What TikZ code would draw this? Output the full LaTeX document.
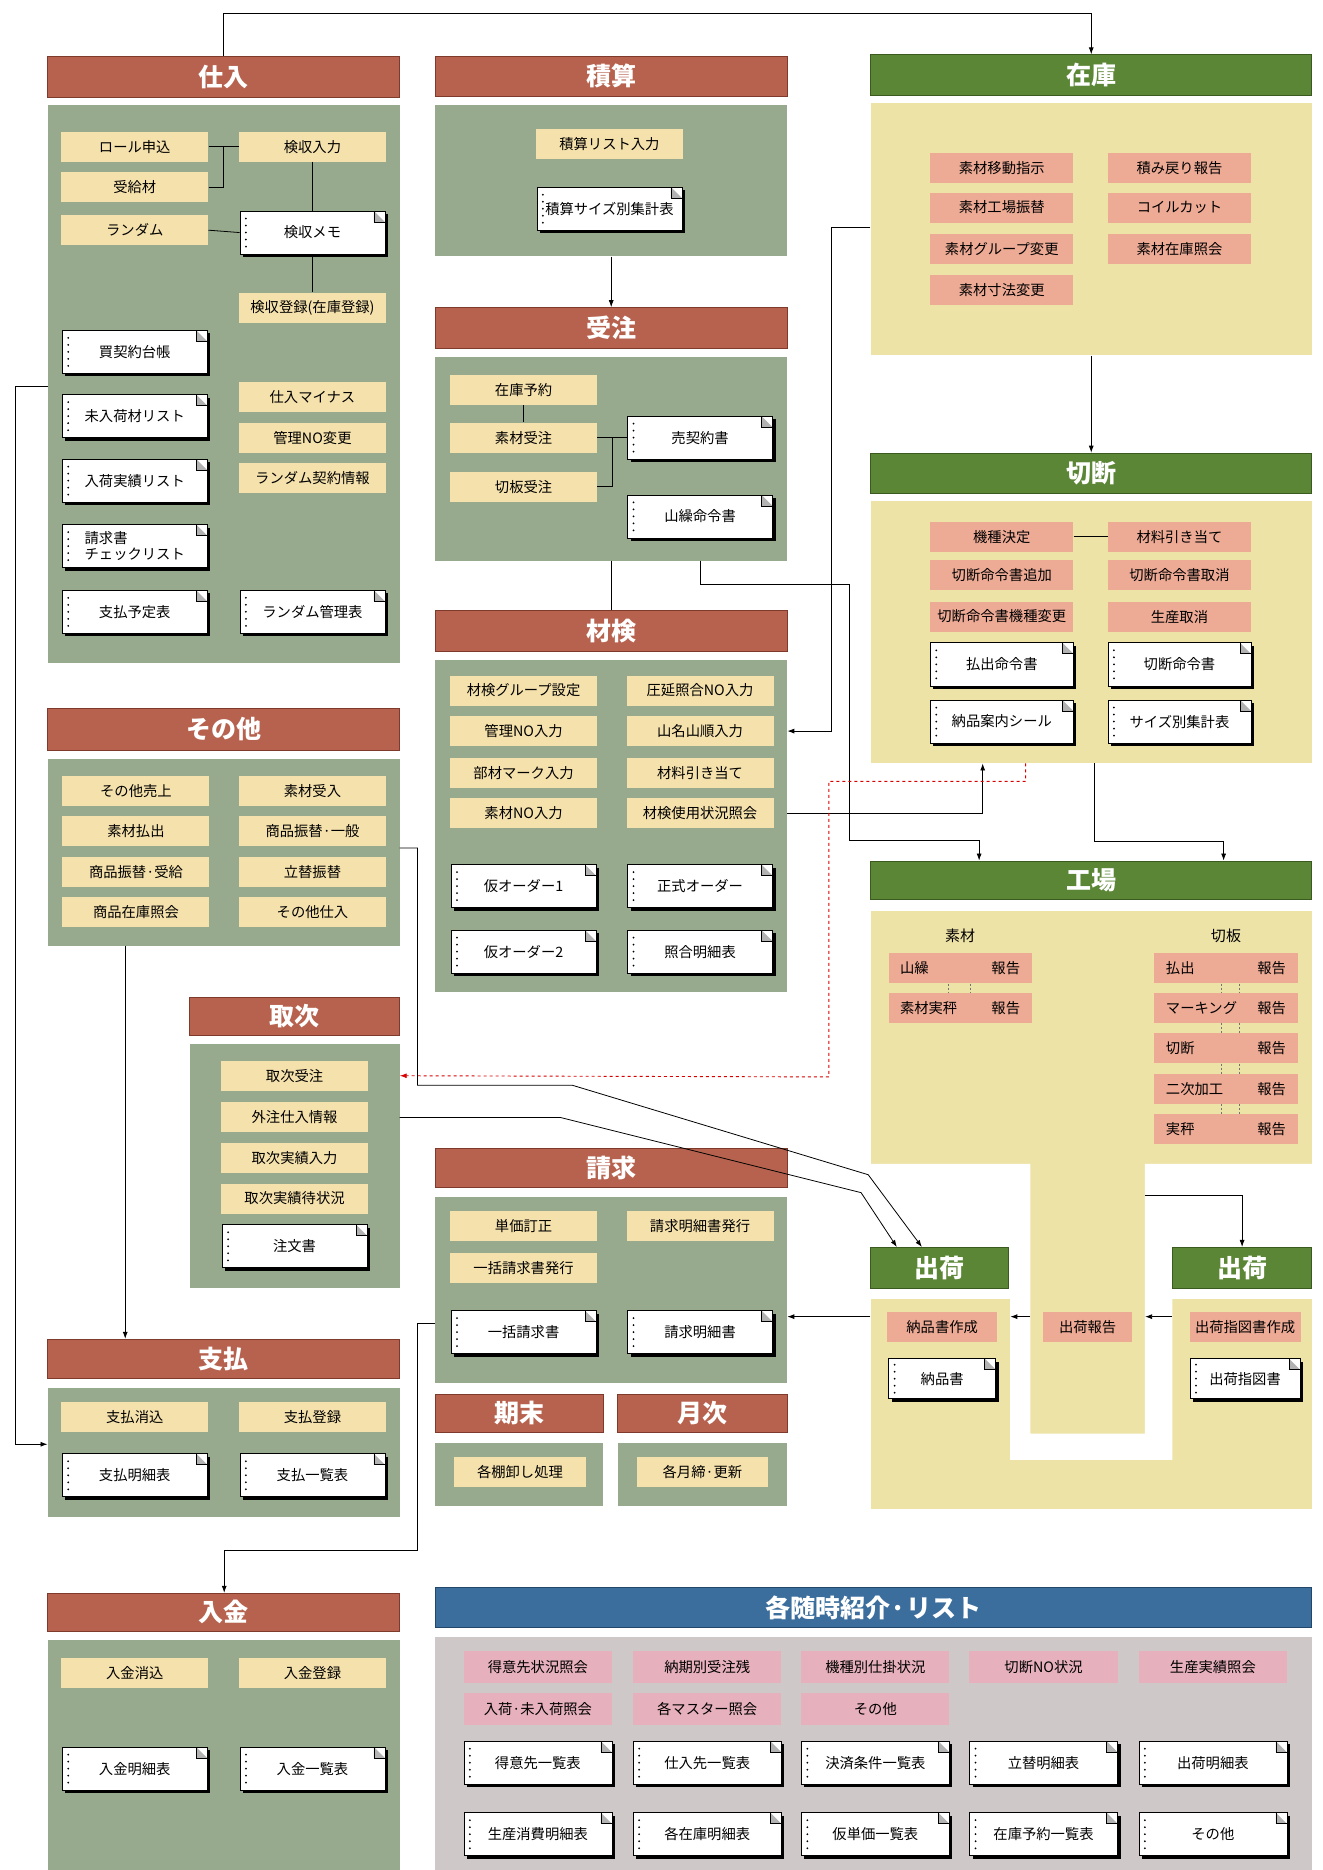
\documentclass[tikz,border=0pt]{standalone}
\usepackage{fontspec}
\setmainfont{Noto Sans CJK JP}
\usepackage{tikz}
\usetikzlibrary{arrows.meta,fit,shadows,calc}

\definecolor{hdrRed}{HTML}{B6624E}
\definecolor{hdrRedD}{HTML}{7E3B2C}
\definecolor{hdrGreen}{HTML}{5B8636}
\definecolor{hdrGreenD}{HTML}{3A5A20}
\definecolor{hdrBlue}{HTML}{3B6E9C}
\definecolor{hdrBlueD}{HTML}{22476A}
\definecolor{bodyGreen}{HTML}{97AA8D}
\definecolor{bodyYellow}{HTML}{EEE3A6}
\definecolor{bodyGrey}{HTML}{CFC8C8}
\definecolor{itemYellow}{HTML}{F5E1AC}
\definecolor{itemSalmon}{HTML}{EDAA95}
\definecolor{itemPink}{HTML}{E6B0BC}

\begin{document}
\begin{tikzpicture}[x=1.192pt, y=-1.192pt, every node/.style={font=\fontsize{14.3}{16}\selectfont, inner sep=0pt}, >={Latex[length=7pt,width=5pt]},
  hdrR/.style={fill=hdrRed, draw=hdrRedD, line width=1pt},
  hdrG/.style={fill=hdrGreen, draw=hdrGreenD, line width=1pt},
  hdrB/.style={fill=hdrBlue, draw=hdrBlueD, line width=1pt},
  hdrText/.style={text=white, font=\fontsize{25}{27}\selectfont\bfseries},
  bodyG/.style={fill=bodyGreen}, bodyY/.style={fill=bodyYellow}, bodyS/.style={fill=bodyGrey},
  item/.style={fill=itemYellow, minimum width=147pt, minimum height=30pt},
  pink/.style={fill=itemSalmon, minimum width=143pt, minimum height=30pt},
  pinkL/.style={fill=itemPink, minimum width=148pt, minimum height=32pt},
  doc/.style={fill=white, draw=black, line width=0.6pt, minimum width=145pt, minimum height=43pt,
    drop shadow={shadow xshift=3pt, shadow yshift=-3pt, fill=black, opacity=1},
    path picture={
      \foreach \dy in {-14,-7,0,7,14}
        \fill[black] ([xshift=6pt,yshift=\dy pt]path picture bounding box.west) circle (1pt);
      \fill[black!30] ([xshift=-11pt]path picture bounding box.north east) -- ([yshift=-11pt]path picture bounding box.north east) -- ([xshift=-11pt,yshift=-11pt]path picture bounding box.north east) -- cycle;
      \draw[black, line width=0.8pt] ([xshift=-11pt]path picture bounding box.north east) -- ([xshift=-11pt,yshift=-11pt]path picture bounding box.north east) -- ([yshift=-11pt]path picture bounding box.north east);
    }},
  link/.style={draw=black, line width=0.8pt},
  redlink/.style={draw=red!85!black, line width=0.9pt, dashed},
  rowtick/.style={draw=black!55, line width=0.5pt, dash pattern=on 2pt off 2pt}]
	\useasboundingbox (0,0) rectangle (1109,1568);

	% panels
	\node[hdrR, fit={(40,47) (335,82)}, label={[hdrText]center:仕入}] (shiireH) {};
	\node[bodyG, fit={(40,88) (335,556)}] (shiireB) {};
	\node[hdrR, fit={(365,47) (660,81)}, label={[hdrText]center:積算}] (sekisanH) {};
	\node[bodyG, fit={(365,88) (660,215)}] (sekisanB) {};
	\node[hdrR, fit={(365,258) (660,292)}, label={[hdrText]center:受注}] (juchuH) {};
	\node[bodyG, fit={(365,299) (660,470)}] (juchuB) {};
	\node[hdrR, fit={(365,512) (660,546)}, label={[hdrText]center:材検}] (zaikenH) {};
	\node[bodyG, fit={(365,553) (660,832)}] (zaikenB) {};
	\node[hdrG, fit={(730,46) (1100,80)}, label={[hdrText]center:在庫}] (zaikoH) {};
	\node[bodyY, fit={(730,86) (1100,298)}] (zaikoB) {};
	\node[hdrG, fit={(730,380) (1100,414)}, label={[hdrText]center:切断}] (setsudanH) {};
	\node[bodyY, fit={(730,420) (1100,640)}] (setsudanB) {};
	\node[hdrR, fit={(40,594) (335,629)}, label={[hdrText]center:その他}] (sonotaH) {};
	\node[bodyG, fit={(40,636) (335,793)}] (sonotaB) {};
	\node[hdrR, fit={(159,836) (335,868)}, label={[hdrText]center:取次}] (torijiH) {};
	\node[bodyG, fit={(159,875) (335,1080)}] (torijiB) {};
	\node[hdrR, fit={(365,963) (660,996)}, label={[hdrText]center:請求}] (seikyuH) {};
	\node[bodyG, fit={(365,1004) (660,1160)}] (seikyuB) {};
	\node[hdrR, fit={(365,1169) (506,1201)}, label={[hdrText]center:期末}] (kimatsuH) {};
	\node[bodyG, fit={(365,1210) (506,1263)}] (kimatsuB) {};
	\node[hdrR, fit={(518,1169) (660,1201)}, label={[hdrText]center:月次}] (getsujiH) {};
	\node[bodyG, fit={(518,1210) (660,1263)}] (getsujiB) {};
	\node[hdrR, fit={(40,1123) (335,1156)}, label={[hdrText]center:支払}] (shiharaiH) {};
	\node[bodyG, fit={(40,1164) (335,1272)}] (shiharaiB) {};
	\node[hdrR, fit={(40,1336) (335,1368)}, label={[hdrText]center:入金}] (nyukinH) {};
	\node[bodyG, fit={(40,1375) (335,1568)}] (nyukinB) {};
	\node[hdrB, fit={(365,1331) (1100,1365)}, label={[hdrText]center:各随時紹介·リスト}] (zuijiH) {};
	\node[bodyS, fit={(365,1373) (1100,1568)}] (zuijiB) {};
	% factory
	\node[bodyY, fit={(730,764) (1100,1265)}] (kojoB) {};
	\fill[white] (730,976) -- (864,976) -- (864,1202) -- (960,1202) -- (960,976) -- (1100,976) -- (1100,1089) -- (983,1089) -- (983,1224) -- (847,1224) -- (847,1089) -- (730,1089) -- cycle;
	\node[hdrG, fit={(730,722) (1100,754)}, label={[hdrText]center:工場}] (kojoH) {};
	\node[hdrG, fit={(730,1046) (846,1080)}, label={[hdrText]center:出荷}] (shukkaLH) {};
	\node[hdrG, fit={(983,1046) (1100,1080)}, label={[hdrText]center:出荷}] (shukkaRH) {};
	\node[fit={(730,1089) (847,1265)}] (shukkaLB) {};
	\node[fit={(983,1089) (1100,1265)}] (shukkaRB) {};
	\node[fit={(864,976) (960,1202)}] (stem) {};

	% shiire
	\node[item] (roll) at (113,123) {ロール申込};
	\node[item] (jukyu) at (113,157) {受給材};
	\node[item] (random) at (113,193) {ランダム};
	\node[item] (kenIn) at (262,123) {検収入力};
	\node[doc] (kenMemo) at (262,195) {検収メモ};
	\node[item] (kenTou) at (262,258) {検収登録(在庫登録)};
	\node[doc] (kaiDaicho) at (113,295) {買契約台帳};
	\node[doc] (minyuka) at (113,349) {未入荷材リスト};
	\node[doc] (nyukaJ) at (113,403) {入荷実績リスト};
	\node[doc, align=left] (seiChk) at (113,458) {請求書\\チェックリスト};
	\node[doc] (shiYotei) at (113,513) {支払予定表};
	\node[item] (shiMinus) at (262,333) {仕入マイナス};
	\node[item] (kanriNo) at (262,367) {管理NO変更};
	\node[item] (randKei) at (262,401) {ランダム契約情報};
	\node[doc] (randKanri) at (262,513) {ランダム管理表};
	% sekisan, juchu
	\node[item] (sekiList) at (511,121) {積算リスト入力};
	\node[doc] (sekiSize) at (511,175) {積算サイズ別集計表};
	\node[item] (zYoyaku) at (439,327) {在庫予約};
	\node[item] (sJuchu) at (439,367) {素材受注};
	\node[item] (kJuchu) at (439,408) {切板受注};
	\node[doc] (baiKei) at (587,367) {売契約書};
	\node[doc] (yamaMei) at (587,433) {山繰命令書};
	% zaiken
	\node[item] (zkGroup) at (439,579) {材検グループ設定};
	\node[item] (zkKanri) at (439,613) {管理NO入力};
	\node[item] (zkBuzai) at (439,648) {部材マーク入力};
	\node[item] (zkSozai) at (439,682) {素材NO入力};
	\node[item] (zkAtsu) at (587,579) {圧延照合NO入力};
	\node[item] (zkYama) at (587,613) {山名山順入力};
	\node[item] (zkHiki) at (587,648) {材料引き当て};
	\node[item] (zkShiyo) at (587,682) {材検使用状況照会};
	\node[doc] (kari1) at (439,743) {仮オーダー1};
	\node[doc] (seishiki) at (587,743) {正式オーダー};
	\node[doc] (kari2) at (439,798) {仮オーダー2};
	\node[doc] (shogo) at (587,798) {照合明細表};
	% zaiko
	\node[pink] (zIdo) at (840,141) {素材移動指示};
	\node[pink] (zFuri) at (840,174) {素材工場振替};
	\node[pink] (zGrp) at (840,209) {素材グループ変更};
	\node[pink] (zSun) at (840,243) {素材寸法変更};
	\node[pink] (zModori) at (989,141) {積み戻り報告};
	\node[pink] (zCoil) at (989,174) {コイルカット};
	\node[pink] (zShokai) at (989,209) {素材在庫照会};
	% setsudan
	\node[pink] (sKishu) at (840,450) {機種決定};
	\node[pink] (sTsuika) at (840,482) {切断命令書追加};
	\node[pink] (sHenko) at (840,517) {切断命令書機種変更};
	\node[pink] (sHiki) at (989,450) {材料引き当て};
	\node[pink] (sTorikeshi) at (989,482) {切断命令書取消};
	\node[pink] (sSeisan) at (989,517) {生産取消};
	\node[doc, minimum width=143pt] (sHarai) at (840,557) {払出命令書};
	\node[doc, minimum width=143pt] (sMeirei) at (989,557) {切断命令書};
	\node[doc, minimum width=143pt] (sSeal) at (840,605) {納品案内シール};
	\node[doc, minimum width=143pt] (sSize) at (989,605) {サイズ別集計表};
	% sonota
	\node[item] (oUri) at (114,663) {その他売上};
	\node[item] (oHarai) at (114,697) {素材払出};
	\node[item] (oJukyu) at (114,731) {商品振替·受給};
	\node[item] (oZaiko) at (114,765) {商品在庫照会};
	\node[item] (oUke) at (262,663) {素材受入};
	\node[item] (oIppan) at (262,697) {商品振替·一般};
	\node[item] (oTate) at (262,731) {立替振替};
	\node[item] (oShiire) at (262,765) {その他仕入};
	% toriji
	\node[item] (tJuchu) at (247,902) {取次受注};
	\node[item] (tGaichu) at (247,937) {外注仕入情報};
	\node[item] (tJisseki) at (247,971) {取次実績入力};
	\node[item] (tMachi) at (247,1005) {取次実績待状況};
	\node[doc] (tChumon) at (247,1045) {注文書};
	% seikyu, kimatsu, getsuji
	\node[item] (qTanka) at (439,1028) {単価訂正};
	\node[item] (qMeisaiH) at (587,1028) {請求明細書発行};
	\node[item] (qIkkatsuH) at (439,1063) {一括請求書発行};
	\node[doc] (qIkkatsu) at (439,1117) {一括請求書};
	\node[doc] (qMeisai) at (587,1117) {請求明細書};
	\node[item, minimum width=131pt] (kTana) at (436,1234) {各棚卸し処理};
	\node[item, minimum width=131pt] (gShime) at (589,1234) {各月締·更新};
	% shiharai, nyukin
	\node[item] (pKeshi) at (113,1188) {支払消込};
	\node[item] (pToroku) at (262,1188) {支払登録};
	\node[doc] (pMeisai) at (113,1237) {支払明細表};
	\node[doc] (pIchiran) at (262,1237) {支払一覧表};
	\node[item] (nKeshi) at (113,1403) {入金消込};
	\node[item] (nToroku) at (262,1403) {入金登録};
	\node[doc] (nMeisai) at (113,1483) {入金明細表};
	\node[doc] (nIchiran) at (262,1483) {入金一覧表};
	% zuiji list
	\node[pinkL] (l11) at (451,1398) {得意先状況照会};
	\node[pinkL] (l12) at (593,1398) {納期別受注残};
	\node[pinkL] (l13) at (734,1398) {機種別仕掛状況};
	\node[pinkL] (l14) at (875,1398) {切断NO状況};
	\node[pinkL] (l15) at (1017,1398) {生産実績照会};
	\node[pinkL] (l21) at (451,1433) {入荷·未入荷照会};
	\node[pinkL] (l22) at (593,1433) {各マスター照会};
	\node[pinkL] (l23) at (734,1433) {その他};
	\node[doc, minimum width=148pt] (d11) at (451,1478) {得意先一覧表};
	\node[doc, minimum width=148pt] (d12) at (593,1478) {仕入先一覧表};
	\node[doc, minimum width=148pt] (d13) at (734,1478) {決済条件一覧表};
	\node[doc, minimum width=148pt] (d14) at (875,1478) {立替明細表};
	\node[doc, minimum width=148pt] (d15) at (1017,1478) {出荷明細表};
	\node[doc, minimum width=148pt] (d21) at (451,1538) {生産消費明細表};
	\node[doc, minimum width=148pt] (d22) at (593,1538) {各在庫明細表};
	\node[doc, minimum width=148pt] (d23) at (734,1538) {仮単価一覧表};
	\node[doc, minimum width=148pt] (d24) at (875,1538) {在庫予約一覧表};
	\node[doc, minimum width=148pt] (d25) at (1017,1538) {その他};
	% kojo
	\node[font=\fontsize{15}{17}\selectfont] (lblSozai) at (805,785) {素材};
	\node[font=\fontsize{15}{17}\selectfont] (lblKiri) at (1028,785) {切板};
	\node[pink] (kYama) at (805,812) {\makebox[120pt]{山繰\hfill 報告}};
	\node[pink] (kJitsu) at (805,845) {\makebox[120pt]{素材実秤\hfill 報告}};
	\node[pink] (kHarai) at (1028,812) {\makebox[120pt]{払出\hfill 報告}};
	\node[pink] (kMark) at (1028,845) {\makebox[120pt]{マーキング\hfill 報告}};
	\node[pink] (kSetsu) at (1028,879) {\makebox[120pt]{切断\hfill 報告}};
	\node[pink] (kNiji) at (1028,913) {\makebox[120pt]{二次加工\hfill 報告}};
	\node[pink] (kJitsuB) at (1028,947) {\makebox[120pt]{実秤\hfill 報告}};
	\node[pink, minimum width=110pt] (nohinSaku) at (790,1113) {納品書作成};
	\node[doc, minimum width=107pt, minimum height=40pt] (nohinsho) at (790,1156) {納品書};
	\node[pink, minimum width=89pt] (shukkaHok) at (912,1113) {出荷報告};
	\node[pink, minimum width=111pt] (sashiSaku) at (1044,1113) {出荷指図書作成};
	\node[doc, minimum width=110pt, minimum height=40pt] (sashizu) at (1044,1156) {出荷指図書};

	% links inside panels
	\draw[link] (roll.east) -- (kenIn.west);
	\draw[link] (jukyu.east) -| ($(roll.east)!.5!(kenIn.west)$);
	\draw[link] (random.east) -- (kenMemo.west);
	\draw[link] (kenIn.south) -- (kenMemo.north);
	\draw[link] (kenMemo.south) -- (kenTou.north);
	\draw[link] (zYoyaku.south) -- (sJuchu.north);
	\draw[link] (sJuchu.east) -- (baiKei.west);
	\draw[link] (kJuchu.east) -| ($(sJuchu.east)!.5!(baiKei.west)$);
	\draw[link] (sKishu.east) -- (sHiki.west);
	\foreach \a/\b in {kHarai/kMark, kMark/kSetsu, kSetsu/kNiji, kNiji/kJitsuB} {
		\draw[rowtick] ([xshift=-5pt]\a.south) -- ([xshift=-5pt]\b.north);
		\draw[rowtick] ([xshift=13pt]\a.south) -- ([xshift=13pt]\b.north);
	}
	\draw[rowtick] ([xshift=-12pt]kYama.south) -- ([xshift=-12pt]kJitsu.north);
	\draw[rowtick] ([xshift=10pt]kYama.south) -- ([xshift=10pt]kJitsu.north);

	% links between panels
	\coordinate (shy) at (0,1104);
	\draw[link, ->] (shiireH.north) -- ++(0,-35) -| (zaikoH.north);
	\draw[link, ->] (sekisanB.south) -- (juchuH.north);
	\draw[link] (juchuB.south) -- (zaikenH.north);
	\draw[link, ->] (zaikoB.south) -- (setsudanH.north);
	\draw[link, ->] (zaikoB.west |- 0,191) -- (697,191) |- (zaikenB.east |- zkYama);
	\draw[link, ->] (juchuB.south -| yamaMei) -- ++(0,20) -| (712,705) -| (kojoH.north -| 821,0);
	\draw[link, ->] (zaikenB.east |- zkShiyo) -| (setsudanB.south -| 824,0);
	\draw[link, ->] (setsudanB.south -| 918,0) -- ++(0,65) -| (kojoH.north -| 1026,0);
	\draw[redlink, ->] (setsudanB.south -| 860,0) -- ++(0,15) -| (695,903) -- (torijiB.east |- tJuchu);
	\draw[link, ->] (sonotaB.east |- 0,711) -- (350,711) -- (350,910) -- (480,910) -- (728,985) -- (shukkaLH.north -| 773,0);
	\draw[link, ->] (torijiB.east |- tGaichu) -- (470,937) -- (722,1000) -- (shukkaLH.north -| 752,0);
	\draw[link, ->] (shiireB.west |- 0,324) -- (13,324) |- (shiharaiB.west |- 0,1211);
	\draw[link, ->] (sonotaB.south -| 105,0) -- (shiharaiH.north -| 105,0);
	\draw[link, ->] (seikyuB.west |- 0,1110) -- (350,1110) -- (350,1300) -| (nyukinH.north -| 188,0);
	\draw[link, ->] (shukkaLB.west |- shy) -- (seikyuB.east |- shy);
	\draw[link, ->] (stem.west |- shy) -- (shukkaLB.east |- shy);
	\draw[link, ->] (shukkaRB.west |- shy) -- (stem.east |- shy);
	\draw[link, ->] (stem.east |- 0,1002) -| (shukkaRH.north);
\end{tikzpicture}
\end{document}
